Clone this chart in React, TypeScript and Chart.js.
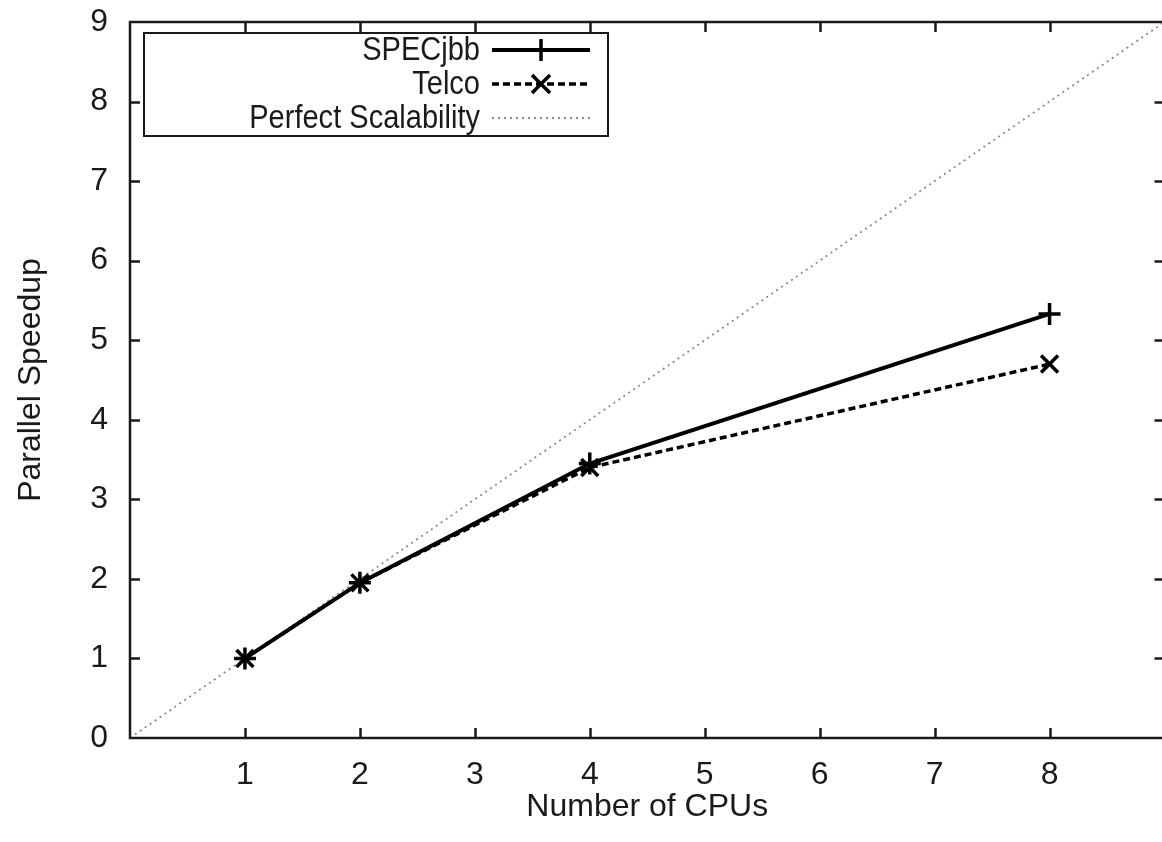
import React, { useEffect, useRef } from "react";
import { Chart, registerables } from "chart.js";

Chart.register(...registerables);

const cpus = [1, 2, 4, 8];
const specjbb = [1, 1.95, 3.45, 5.33];
const telco = [1, 1.95, 3.4, 4.7];
const perfectX = [0, 9];
const perfectY = [0, 9];
const xTicks = [1, 2, 3, 4, 5, 6, 7, 8];
const yTicks = [0, 1, 2, 3, 4, 5, 6, 7, 8, 9];

const FONT = "'Liberation Sans', Arial, sans-serif";
const INK = "#1a1a1a";

const framePlugin = {
  id: "gnuFrame",
  afterDatasetsDraw(chart: any) {
    const { ctx, chartArea: a, scales } = chart;
    const xs = scales.x;
    const ys = scales.y;
    ctx.save();
    ctx.strokeStyle = INK;
    ctx.lineWidth = 2.5;
    const tl = 10;
    ctx.beginPath();
    for (const v of xTicks) {
      const px = Math.round(xs.getPixelForValue(v)) + 0.5;
      ctx.moveTo(px, a.bottom);
      ctx.lineTo(px, a.bottom - tl);
      ctx.moveTo(px, a.top);
      ctx.lineTo(px, a.top + tl);
    }
    for (const v of yTicks) {
      if (v === 0 || v === 9) continue;
      const py = Math.round(ys.getPixelForValue(v)) + 0.5;
      ctx.moveTo(a.left, py);
      ctx.lineTo(a.left + tl, py);
      ctx.moveTo(a.right, py);
      ctx.lineTo(a.right - tl, py);
    }
    ctx.stroke();
    ctx.strokeRect(a.left, a.top, a.right - a.left, a.bottom - a.top);
    ctx.restore();
  },
};

function drawMarker(ctx: any, style: string, x: number, y: number, r: number) {
  ctx.beginPath();
  if (style === "cross") {
    ctx.moveTo(x - r, y);
    ctx.lineTo(x + r, y);
    ctx.moveTo(x, y - r);
    ctx.lineTo(x, y + r);
  } else if (style === "crossRot") {
    const d = r * 0.75;
    ctx.moveTo(x - d, y - d);
    ctx.lineTo(x + d, y + d);
    ctx.moveTo(x - d, y + d);
    ctx.lineTo(x + d, y - d);
  }
  ctx.stroke();
}

const legendPlugin = {
  id: "gnuLegend",
  afterDraw(chart: any) {
    const { ctx } = chart;
    const box = { l: 144, t: 33, r: 608, b: 136 };
    ctx.save();
    ctx.fillStyle = "#ffffff";
    ctx.fillRect(box.l, box.t, box.r - box.l, box.b - box.t);
    ctx.strokeStyle = INK;
    ctx.lineWidth = 2;
    ctx.strokeRect(box.l, box.t, box.r - box.l, box.b - box.t);
    const rows = [50, 84, 118];
    const dsets = chart.data.datasets;
    ctx.font = `33px ${FONT}`;
    ctx.textAlign = "right";
    ctx.textBaseline = "middle";
    dsets.forEach((ds: any, i: number) => {
      const y = rows[i];
      ctx.fillStyle = INK;
      ctx.save();
      ctx.translate(480, y + 1);
      ctx.scale(0.88, 1);
      ctx.fillText(ds.label, 0, 0);
      ctx.restore();
      ctx.strokeStyle = ds.borderColor;
      ctx.lineWidth = ds.borderWidth;
      ctx.setLineDash(ds.borderDash || []);
      ctx.beginPath();
      ctx.moveTo(492, y);
      ctx.lineTo(590, y);
      ctx.stroke();
      ctx.setLineDash([]);
      if (ds.pointStyle && ds.pointRadius > 0) {
        ctx.lineWidth = ds.pointBorderWidth;
        drawMarker(ctx, ds.pointStyle, 541, y, ds.pointRadius);
      }
    });
    ctx.restore();
  },
};

export default function App() {
  const ref = useRef<HTMLCanvasElement>(null);
  useEffect(() => {
    if (!ref.current) return;
    const chart = new Chart(ref.current, {
      type: "line",
      data: {
        datasets: [
          {
            label: "SPECjbb",
            data: cpus.map((c, i) => ({ x: c, y: specjbb[i] })),
            borderColor: "#000000",
            backgroundColor: "#000000",
            borderWidth: 4,
            pointStyle: "cross",
            pointRadius: 11,
            pointBorderWidth: 3.5,
            pointBorderColor: "#000000",
            fill: false,
            tension: 0,
          },
          {
            label: "Telco",
            data: cpus.map((c, i) => ({ x: c, y: telco[i] })),
            borderColor: "#000000",
            backgroundColor: "#000000",
            borderWidth: 3.5,
            borderDash: [7, 4],
            pointStyle: "crossRot",
            pointRadius: 12,
            pointBorderWidth: 3.5,
            pointBorderColor: "#000000",
            fill: false,
            tension: 0,
          },
          {
            label: "Perfect Scalability",
            data: perfectX.map((c, i) => ({ x: c, y: perfectY[i] })),
            borderColor: "#8a8a8a",
            backgroundColor: "#8a8a8a",
            borderWidth: 1.8,
            borderDash: [2, 4],
            pointRadius: 0,
            fill: false,
            tension: 0,
          },
        ] as any,
      },
      options: {
        animation: false,
        responsive: false,
        maintainAspectRatio: false,
        layout: { padding: { top: 22, right: 6, left: 0, bottom: 0 } },
        plugins: { legend: { display: false }, tooltip: { enabled: false } },
        scales: {
          x: {
            type: "linear",
            min: 0,
            max: 9,
            afterFit: (s: any) => {
              s.height = 104;
              s.paddingLeft = 0;
              s.paddingRight = 0;
            },
            afterBuildTicks: (s: any) => {
              s.ticks = [0, ...xTicks, 9].map((v) => ({ value: v }));
            },
            grid: { display: false, drawTicks: false },
            border: { display: false },
            ticks: {
              autoSkip: false,
              maxRotation: 0,
              padding: 18,
              color: INK,
              font: { family: FONT, size: 32 },
              callback: (v: any) => (xTicks.includes(Number(v)) ? String(v) : ""),
            },
            title: {
              display: true,
              text: "Number of CPUs",
              color: INK,
              font: { family: FONT, size: 32 },
              padding: { top: 0, bottom: 16 },
            },
          },
          y: {
            type: "linear",
            min: 0,
            max: 9,
            afterFit: (s: any) => {
              s.width = 130;
              s.paddingTop = 0;
              s.paddingBottom = 0;
            },
            afterBuildTicks: (s: any) => {
              s.ticks = yTicks.map((v) => ({ value: v }));
            },
            grid: { display: false, drawTicks: false },
            border: { display: false },
            ticks: {
              autoSkip: false,
              padding: 22,
              color: INK,
              font: { family: FONT, size: 32 },
            },
            title: {
              display: true,
              text: "Parallel Speedup",
              color: INK,
              font: { family: FONT, size: 32 },
              padding: { top: 12, bottom: 0 },
            },
          },
        },
      } as any,
      plugins: [framePlugin, legendPlugin],
    });
    return () => chart.destroy();
  }, []);
  return (
    <div
      style={{
        position: "fixed",
        left: 0,
        top: 0,
        width: 1162,
        height: 842,
        overflow: "hidden",
        background: "#ffffff",
      }}
    >
      <canvas ref={ref} width={1180} height={842} style={{ display: "block" }} />
    </div>
  );
}
